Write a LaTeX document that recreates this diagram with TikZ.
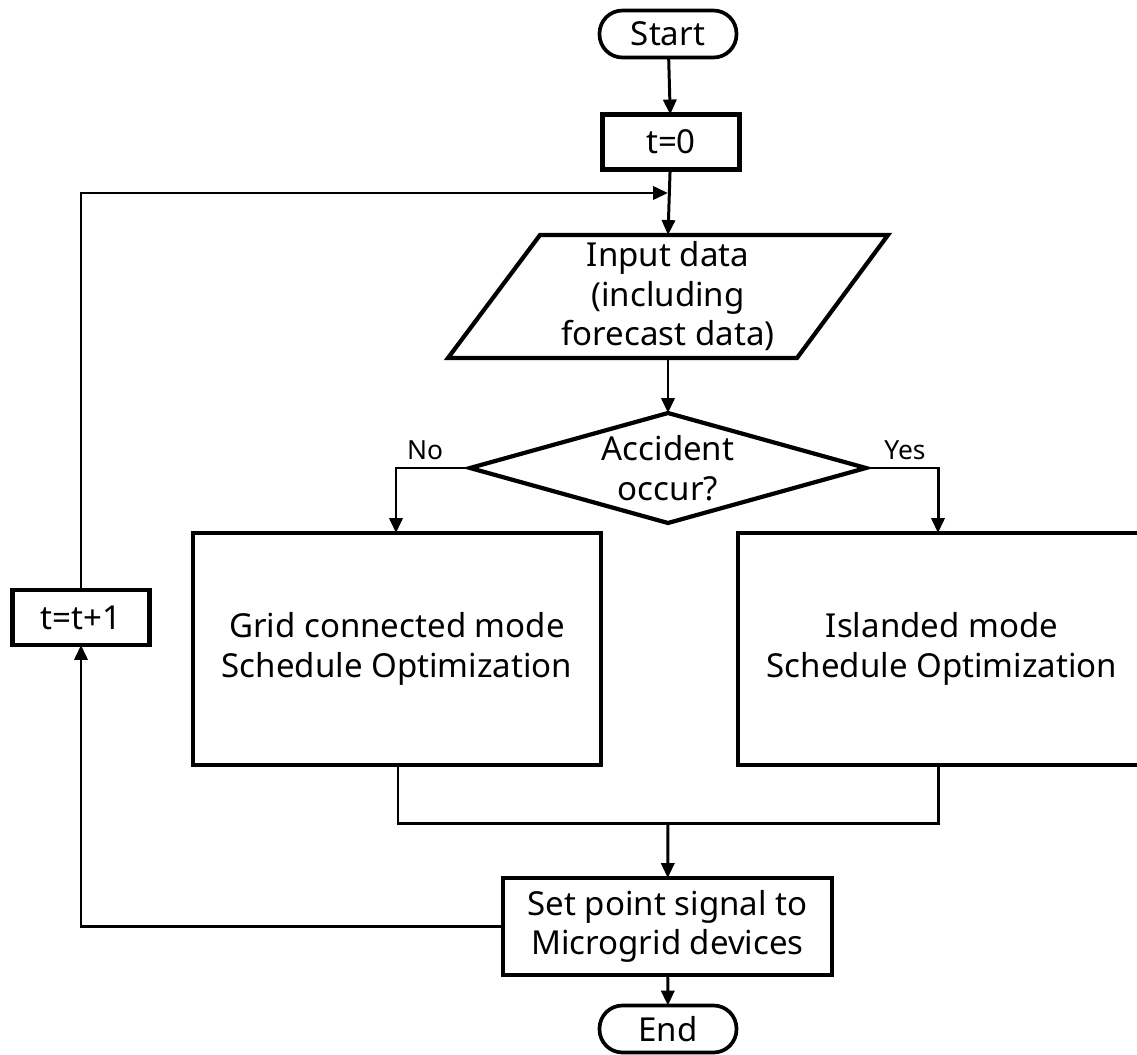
\documentclass[tikz,border=0pt]{standalone}
\usepackage{fontspec}
\setmainfont{Noto Sans}
\usetikzlibrary{shapes.geometric,arrows.meta}
\begin{document}
\begin{tikzpicture}[x=0.02cm,y=-0.02cm,
  every node/.style={font=\fontsize{18.8}{22.5}\selectfont, align=center, inner sep=0pt, outer sep=0pt},
  box/.style={draw, line width=2.4pt},
  term/.style={draw, line width=2.1pt, rounded corners=0.46cm, minimum width=2.74cm, minimum height=0.94cm},
  conn/.style={line width=1.7pt},
  arr/.style={conn, -{Triangle[length=8.5pt,width=7.5pt]}},
  lbl/.style={font=\fontsize{15}{18}\selectfont}
]
\useasboundingbox (0,0) rectangle (1137,1055);
% nodes
\node[term] (start) at (668,34) {Start};
\node[box, minimum width=2.74cm, minimum height=1.1cm] (t0) at (671,142) {t=0};
\node[minimum width=8.8cm, minimum height=2.46cm] (inp) at (668,296.5) {Input data\\(including\\forecast data)};
\draw[box, line join=miter] (540,235) -- (888,235) -- (797,358) -- (448,358) -- cycle;
\node[minimum width=7.92cm, minimum height=2.2cm] (dec) at (668,468) {Accident\\occur?};
\draw[box, line join=miter] (dec.north) -- (dec.east) -- (dec.south) -- (dec.west) -- cycle;
\node[box, minimum width=8.16cm, minimum height=4.64cm] (grid) at (397,649) {Grid connected mode\\Schedule Optimization};
\node[box, minimum width=8.16cm, minimum height=4.64cm] (isl) at (942,649) {Islanded mode\\Schedule Optimization};
\node[box, minimum width=6.58cm, minimum height=1.94cm] (set) at (667.5,926.5) {Set point signal to\\Microgrid devices};
\node[box, minimum width=2.74cm, minimum height=1.1cm] (inc) at (81,617.5) {t=t+1};
\node[term] (end) at (668,1029) {End};
\coordinate (top) at (668,193);
\coordinate (join) at (668,823);
\coordinate (gin) at (396,533);
\coordinate (iin) at (938,533);
\coordinate (gout) at (398,765);
\coordinate (iout) at (938,765);
\node[lbl] (no) at (425,450) {No};
\node[lbl] (yes) at (905,450) {Yes};
% connectors
\draw[arr] (start) -- (t0);
\draw[arr] (t0) -- (inp.north);
\draw[arr] (inp.south) -- (dec.north);
\draw[arr] (dec.west) -| (gin);
\draw[arr] (dec.east) -| (iin);
\draw[conn] (gout) |- (join) -| (iout);
\draw[arr] (join) -- (set);
\draw[arr] (set) -- (end);
\draw[arr] (set.west) -| (inc.south);
\draw[arr] (inc.north) |- (top);
\end{tikzpicture}
\end{document}
